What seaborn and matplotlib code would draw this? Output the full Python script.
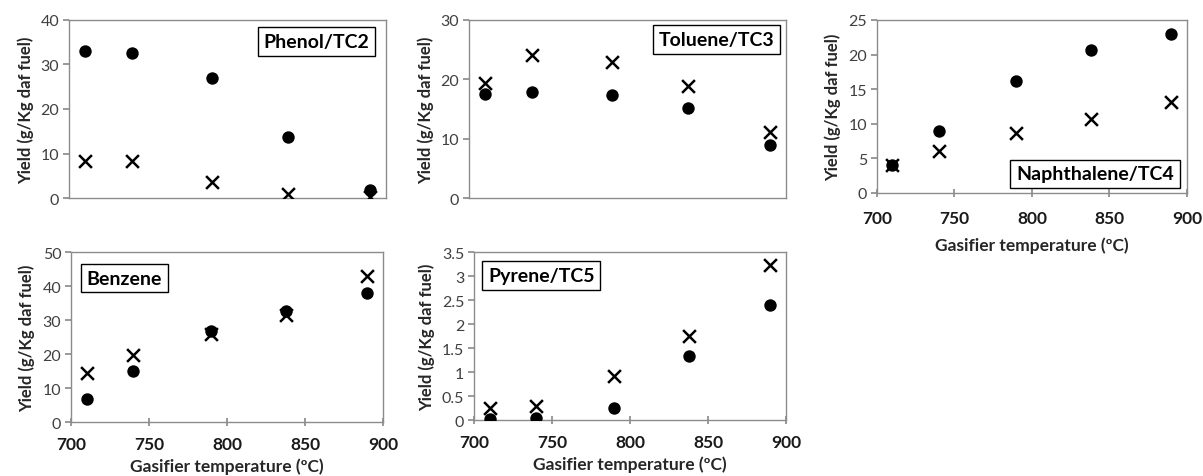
import matplotlib
matplotlib.use("Agg")
import matplotlib.pyplot as plt
import seaborn as sns
import pandas as pd

temps = [710, 740, 790, 838, 890]

phenol_dot = [33.1, 32.6, 26.9, 13.8, 1.9]
phenol_x = [8.4, 8.3, 3.7, 1.0, 0.3]
toluene_dot = [17.6, 17.9, 17.3, 15.2, 9.0]
toluene_x = [19.4, 24.1, 22.9, 18.8, 11.2]
naph_dot = [4.0, 8.9, 16.2, 20.7, 23.0]
naph_x = [4.1, 6.0, 8.6, 10.7, 13.1]
benzene_dot = [6.7, 14.9, 26.8, 32.6, 38.0]
benzene_x = [14.3, 19.6, 25.8, 31.4, 43.0]
pyrene_dot = [0.03, 0.04, 0.26, 1.33, 2.39]
pyrene_x = [0.25, 0.30, 0.91, 1.76, 3.23]

panels = [
    ("Phenol/TC2", phenol_dot, phenol_x, [0, 10, 20, 30, 40], ["0", "10", "20", "30", "40"]),
    ("Toluene/TC3", toluene_dot, toluene_x, [0, 10, 20, 30], ["0", "10", "20", "30"]),
    ("Naphthalene/TC4", naph_dot, naph_x, [0, 5, 10, 15, 20, 25], ["0", "5", "10", "15", "20", "25"]),
    ("Benzene", benzene_dot, benzene_x, [0, 10, 20, 30, 40, 50], ["0", "10", "20", "30", "40", "50"]),
    ("Pyrene/TC5", pyrene_dot, pyrene_x, [0, 0.5, 1, 1.5, 2, 2.5, 3, 3.5],
     ["0", "0.5", "1", "1.5", "2", "2.5", "3", "3.5"]),
]
xticks = [700, 750, 800, 850, 900]

sns.set_theme(style="white")
plt.rcParams["font.family"] = ["Lato", "DejaVu Sans"]

fig = plt.figure(figsize=(12.03, 4.77), dpi=100)

rects = [
    [0.0574, 0.5828, 0.2635, 0.3732],
    [0.3899, 0.5828, 0.2635, 0.3732],
    [0.7290, 0.5933, 0.2577, 0.3627],
    [0.0590, 0.1132, 0.2594, 0.3564],
    [0.3940, 0.1174, 0.2594, 0.3522],
]
box_pos = [(0.78, 0.88), (0.78, 0.89), (0.703, 0.11), (0.17, 0.847), (0.216, 0.86)]
# (show x axis, tick pad, label pad)
xcfg = [(False, 0, 0), (False, 0, 0), (True, 9, 8), (True, 7, 4), (True, 7, 4)]

for (title, dots, crosses, yt, ytl), rect, bp, (sx, tp, lp) in zip(panels, rects, box_pos, xcfg):
    ax = fig.add_axes(rect)
    df = pd.DataFrame({"T": temps, "dot": dots, "cross": crosses})
    sns.scatterplot(data=df, x="T", y="dot", ax=ax, marker="o", color="black",
                    s=80, edgecolor="black", linewidth=0, zorder=3)
    sns.scatterplot(data=df, x="T", y="cross", ax=ax, marker="x", color="black",
                    s=85, linewidth=1.8, zorder=4)
    ax.set_xlim(700, 900)
    ax.set_ylim(yt[0], yt[-1])
    ax.set_yticks(yt)
    ax.set_yticklabels(ytl, fontsize=11.5, color="#404040")
    for sp in ax.spines.values():
        sp.set_color("#8c8c8c")
        sp.set_linewidth(1.0)
    ax.tick_params(axis="y", direction="out", length=4, color="#8c8c8c", pad=3, left=True)
    if sx:
        ax.set_xticks(xticks)
        ax.set_xticklabels([str(v) for v in xticks], fontsize=12.5, fontweight="bold", color="#1a1a1a")
        ax.tick_params(axis="x", direction="inout", length=6, color="#8c8c8c", bottom=True, pad=tp)
        ax.set_xlabel("Gasifier temperature (ºC)", fontsize=12.5, fontweight="bold", labelpad=lp)
    else:
        ax.set_xticks([])
        ax.set_xlabel("")
    ax.set_ylabel("Yield (g/Kg daf fuel)", fontsize=12, fontweight="bold", labelpad=5)
    ax.text(bp[0], bp[1], title, transform=ax.transAxes, ha="center", va="center",
            fontsize=14, fontweight="bold", color="black", zorder=5,
            bbox=dict(boxstyle="square,pad=0.3", facecolor="white", edgecolor="black", linewidth=1.0))

fig.savefig("out.png", dpi=100)
